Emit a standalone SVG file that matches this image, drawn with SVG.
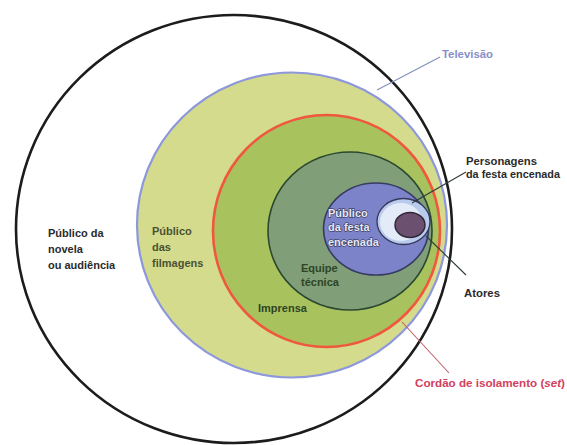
<svg xmlns="http://www.w3.org/2000/svg" width="567" height="445" viewBox="0 0 567 445">
<style>
text{font-family:"Liberation Sans",Arial,sans-serif;font-weight:bold;font-size:11px}
.dark{fill:#2b2b2b}
.olive{fill:#4a5232}
.green{fill:#2e4424}
.festa{fill:#e6e8f7;stroke:#3c3f62;stroke-width:1.3;paint-order:stroke}
.lead{fill:none;stroke-width:1.1}
</style>
<rect width="567" height="445" fill="#ffffff"/>
<g id="televisao">
<ellipse cx="292" cy="225" rx="155" ry="152.5" fill="#d4db8d" stroke="#8c97dc" stroke-width="2.2"/>
</g>
<g id="cordao">
<ellipse cx="326.5" cy="231" rx="113.5" ry="116" fill="#a8c35e" stroke="#f0583e" stroke-width="2.6"/>
</g>
<g id="equipe">
<ellipse cx="350" cy="231" rx="82" ry="79" fill="#809f79" stroke="#2c4830" stroke-width="1.6"/>
</g>
<g id="festa">
<ellipse cx="376" cy="229" rx="52.5" ry="46" fill="#7c83c9" stroke="#373b62" stroke-width="1.6"/>
</g>
<g id="personagens">
<ellipse cx="403.5" cy="221.5" rx="26.5" ry="23" fill="#b9cbec" stroke="#34375a" stroke-width="1.3"/>
<ellipse cx="401" cy="222" rx="21" ry="19" fill="#e4ebf8"/>
</g>
<g id="atores">
<ellipse cx="410" cy="225" rx="15" ry="12.5" fill="#6c5070" stroke="#2f2535" stroke-width="1.4"/>
</g>
<g id="novela">
<ellipse cx="234" cy="229" rx="218" ry="214" fill="none" stroke="#1c1c1c" stroke-width="2.6"/>
</g>
<g id="connectors">
<polyline class="lead" stroke="#8290bc" points="377,90 440,57"/>
<polyline class="lead" stroke="#2f3a3a" points="412,203 466,172"/>
<polyline class="lead" stroke="#2f3a3a" points="426,236 466,275"/>
<polyline class="lead" stroke="#c0606a" points="402,322 449,373"/>
</g>
<g id="labels">
<text x="442" y="58" fill="#8890c8" textLength="51" lengthAdjust="spacingAndGlyphs">Televisão</text>
<text class="dark" x="466" y="165" textLength="71" lengthAdjust="spacingAndGlyphs">Personagens</text>
<text class="dark" x="466" y="178" textLength="94" lengthAdjust="spacingAndGlyphs">da festa encenada</text>
<text class="dark" x="464" y="297" textLength="36" lengthAdjust="spacingAndGlyphs">Atores</text>
<text x="415" y="387" fill="#d2405e" textLength="150" lengthAdjust="spacingAndGlyphs">Cordão de isolamento (<tspan font-style="italic">set</tspan>)</text>
<text class="dark" x="48" y="237">Público da</text>
<text class="dark" x="48" y="253">novela</text>
<text class="dark" x="48" y="269">ou audiência</text>
<text class="olive" x="152" y="235">Público</text>
<text class="olive" x="152" y="251">das</text>
<text class="olive" x="152" y="267">filmagens</text>
<text class="festa" x="328" y="217">Público</text>
<text class="festa" x="328" y="231">da festa</text>
<text class="festa" x="328" y="246">encenada</text>
<text class="green" x="301" y="272">Equipe</text>
<text class="green" x="301" y="286">técnica</text>
<text class="green" x="258" y="312">Imprensa</text>
</g>
</svg>
